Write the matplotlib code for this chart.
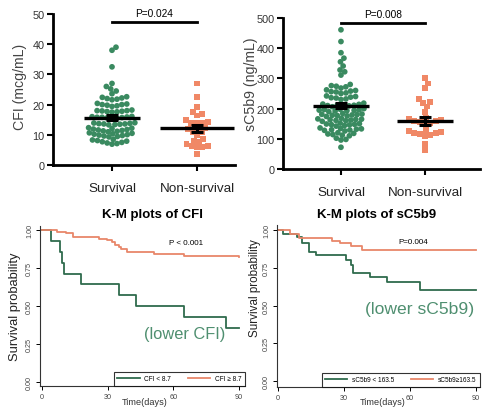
import numpy as np
import matplotlib
matplotlib.use("Agg")
import matplotlib.pyplot as plt

plt.rcParams["font.family"] = ["Liberation Sans", "DejaVu Sans"]

# ---- data ----
groups = ["Survival", "Non-survival"]

cfi_surv = [39, 38, 32.5, 27, 26, 25.2, 24.5, 23.6,
            22.4, 22.2, 22.0, 21.8, 22.6, 21.6,
            20.2, 20.0, 19.8, 19.6, 20.4, 19.4, 20.0,
            18.0, 17.9, 17.8, 17.6, 18.2, 17.5, 18.0, 17.7,
            15.9, 15.8, 15.6, 15.5, 16.0, 15.4, 15.7, 16.1, 15.8,
            13.8, 13.6, 13.4, 13.5, 13.7, 13.9, 13.3, 13.6, 14.0,
            11.0, 11.15, 11.3, 11.45, 11.6, 11.75, 11.9, 12.05, 12.2, 12.35,
            9.3, 9.45, 9.6, 9.75, 9.9, 10.05, 10.2, 10.35, 10.5, 10.65,
            6.9, 7.1, 7.3, 7.5, 7.7, 7.9, 8.1, 8.3, 8.5]
cfi_nonsurv = [27, 22.5, 19.2, 17.6, 17, 16.4, 14.8, 14.2, 14, 14, 13.8, 12.2, 12, 12,
               11, 10.8, 9.8, 8.7, 8, 7.6, 6.9, 6.4, 6.2, 6, 5.9, 3.7]
cfi_mean = [15.6, 12.1]
cfi_sem = [0.8, 1.2]

c5_surv = [461, 422, 385, 367, 355, 341, 328, 322, 311,
           280, 276, 272, 268, 274,
           262, 258, 255, 252, 260, 250, 256,
           242, 238, 235, 232, 240, 230, 236,
           215, 212, 210, 208, 218, 206, 214, 211, 209,
           198, 196, 194, 192, 200, 190, 197, 193, 195,
           182, 180, 178, 176, 184, 174, 181, 177, 179,
           166, 164, 162, 160, 168, 158, 165, 161, 163,
           150, 148, 146, 144, 152, 142, 149, 147,
           134, 132, 130, 128, 136, 126, 133, 129,
           118, 116, 114, 112, 120, 110,
           102, 98, 96,
           72]
c5_nonsurv = [300, 283, 267, 233, 222, 220, 207, 190,
              168, 165, 162, 160, 158, 155, 152, 150,
              128, 125, 123, 120, 118, 115, 112, 110,
              83, 62]
c5_mean = [210, 160]
c5_sem = [9, 13]

# Kaplan-Meier steps (days, survival probability)
cfi_low_t = [0, 4, 8, 9, 10, 18, 35, 43, 65, 84, 90]
cfi_low_s = [1.0, 0.929, 0.857, 0.786, 0.714, 0.643, 0.571, 0.5, 0.429, 0.357, 0.357]
cfi_high_t = [0, 7, 11, 14, 26, 29.5, 32, 33.5, 35, 36, 39, 51, 65, 90]
cfi_high_s = [1.0, 0.99, 0.98, 0.955, 0.945, 0.935, 0.92, 0.905, 0.89, 0.875, 0.86,
              0.845, 0.83, 0.825]
c5_low_t = [0, 2.5, 8.5, 11, 14, 17.5, 31, 33, 34, 42, 49.5, 64.5, 90]
c5_low_s = [1.0, 0.97, 0.955, 0.915, 0.855, 0.83, 0.80, 0.77, 0.715, 0.685, 0.655,
            0.60, 0.60]
c5_high_t = [0, 5.5, 9.5, 24.5, 28, 33, 38, 90]
c5_high_s = [1.0, 0.97, 0.945, 0.925, 0.91, 0.895, 0.865, 0.865]

GREEN = "#3a8a60"
ORANGE = "#f08866"
KM_GREEN = "#2f6b4d"
KM_ORANGE = "#e8876a"
NOTE_GREEN = "#4f8f70"

W, H = 500, 414
fig = plt.figure(figsize=(W / 100, H / 100), dpi=100)


def rect(x0, y0, x1, y1):
    # pixel box (top-left origin) -> figure fraction rect
    return [x0 / W, 1 - y1 / H, (x1 - x0) / W, (y1 - y0) / H]


def ftext(x, y, s, **kw):
    fig.text(x / W, 1 - y / H, s, ha="center", va="center", **kw)


def swarm(ax, x0, values, d):
    trans = ax.transData
    pts = trans.transform(np.column_stack([np.full(len(values), x0), values]))
    ypx = pts[:, 1]
    xc = pts[0, 0]
    xs = np.zeros(len(values))
    placed = []
    for i in np.argsort(ypx):
        y = ypx[i]
        near = [(px, py) for px, py in placed if abs(py - y) < d]
        cands = [0.0]
        for px, py in near:
            dx = np.sqrt(d * d - (py - y) ** 2)
            cands += [px + dx, px - dx]
        cands.sort(key=abs)
        for c in cands:
            if all((c - px) ** 2 + (y - py) ** 2 >= d * d - 1e-6 for px, py in near):
                xs[i] = c
                placed.append((c, y))
                break
    back = trans.inverted().transform(np.column_stack([xc + xs, ypx]))
    return back[:, 0]


def dot_panel(box, xlim, surv, nonsurv, means, sems, halfw, ymax, ystep, ptext, bar_y, text_y):
    ax = fig.add_axes(rect(*box))
    ax.set_xlim(*xlim)
    ax.set_ylim(0, ymax)
    for s in ["top", "right"]:
        ax.spines[s].set_visible(False)
    for s in ["left", "bottom"]:
        ax.spines[s].set_linewidth(2.0)
    ax.set_yticks(np.arange(0, ymax + 1, ystep))
    ax.set_xticks([0, 1])
    ax.set_xticklabels(groups, fontsize=9.7, color="#222222")
    ax.tick_params(axis="y", labelsize=7.8, labelcolor="#333333", width=1.5, length=4, pad=2)
    ax.tick_params(axis="x", width=1.5, length=4, pad=8)

    xs = swarm(ax, 0, surv, 5.0)
    ax.scatter(xs, surv, s=17, marker="o", color=GREEN, edgecolors="none", zorder=2)
    xs = swarm(ax, 1, nonsurv, 5.5)
    ax.scatter(xs, nonsurv, s=18, marker="s", color=ORANGE, edgecolors="none", zorder=2)

    for i in range(2):
        ax.hlines(means[i], i - halfw[i], i + halfw[i], color="black", lw=2.4, zorder=4)
        ax.errorbar(i, means[i], yerr=sems[i], fmt="none", ecolor="black",
                    elinewidth=2.2, capsize=4, capthick=2.2, zorder=4)

    ax.plot([0, 1], [bar_y, bar_y], color="black", lw=2.0, clip_on=False)
    ax.text(0.5, text_y, ptext, ha="center", va="center", fontsize=7.3, clip_on=False)
    return ax


dot_panel((53, 15, 235, 166), (-0.694, 1.447), cfi_surv, cfi_nonsurv, cfi_mean, cfi_sem,
          [0.33, 0.44], 50, 10, "P=0.024", 47.3, 50.3)
ftext(20, 87, "CFI (mcg/mL)", rotation=90, fontsize=10.2, color="#444444")

dot_panel((283, 19, 480, 170), (-0.69, 1.655), c5_surv, c5_nonsurv, c5_mean, c5_sem,
          [0.33, 0.33], 500, 100, "P=0.008", 483, 513)
ftext(251, 84, "sC5b9 (ng/mL)", rotation=90, fontsize=10.2, color="#444444")


def km_panel(box, xlim, ylim, low, high, labels, ptext, ppos):
    ax = fig.add_axes(rect(*box))
    ax.set_xlim(*xlim)
    ax.set_ylim(*ylim)
    for s in ["top", "right"]:
        ax.spines[s].set_visible(False)
    for s in ["left", "bottom"]:
        ax.spines[s].set_linewidth(0.8)
        ax.spines[s].set_color("#333333")
    ax.step(low[0], low[1], where="post", color=KM_GREEN, lw=1.3, label=labels[0])
    ax.step(high[0], high[1], where="post", color=KM_ORANGE, lw=1.3, label=labels[1])
    ax.set_xticks([0, 30, 60, 90])
    ax.set_yticks([0, 0.25, 0.5, 0.75, 1.0])
    ax.set_yticklabels(["0.00", "0.25", "0.50", "0.75", "1.00"], rotation=90, va="center")
    ax.tick_params(labelsize=5.2, labelcolor="#444444", length=3, width=0.7, pad=2)
    leg = ax.legend(loc="lower right", ncol=2, frameon=True, fancybox=False,
                    borderaxespad=0, handlelength=3.4, columnspacing=2.6,
                    borderpad=0.55, handletextpad=0.7, fontsize=4.7)
    leg.get_frame().set_edgecolor("black")
    leg.get_frame().set_linewidth(0.8)
    ax.text(ppos[0], ppos[1], ptext, ha="center", va="center", fontsize=5.8)
    return ax


km_panel((40, 227, 245, 387), (-0.91, 92.7), (-0.026, 1.028),
         (cfi_low_t, cfi_low_s), (cfi_high_t, cfi_high_s),
         ["CFI < 8.7", "CFI \u2265 8.7"], "P < 0.001", (66, 0.92))
ftext(152, 215, "K-M plots of CFI", fontsize=9.5, fontweight="bold")
ftext(15, 307, "Survival probability", rotation=90, fontsize=9.3, color="#222222")
ftext(145, 403, "Time(days)", fontsize=6.6, color="#333333")
ftext(185, 334, "(lower CFI)", fontsize=11.8, color=NOTE_GREEN)

km_panel((277, 226, 480, 388), (-0.45, 91.8), (-0.037, 1.031),
         (c5_low_t, c5_low_s), (c5_high_t, c5_high_s),
         ["sC5b9 < 163.5", "sC5b9\u2265163.5"], "P=0.004", (61.5, 0.92))
ftext(377, 215, "K-M plots of sC5b9", fontsize=9.5, fontweight="bold")
ftext(255, 288, "Survival probability", rotation=90, fontsize=8.4, color="#222222")
ftext(383, 403, "Time(days)", fontsize=6.6, color="#333333")
ftext(420, 310, "(lower sC5b9)", fontsize=12.6, color=NOTE_GREEN)

fig.savefig("out.png", dpi=100)
